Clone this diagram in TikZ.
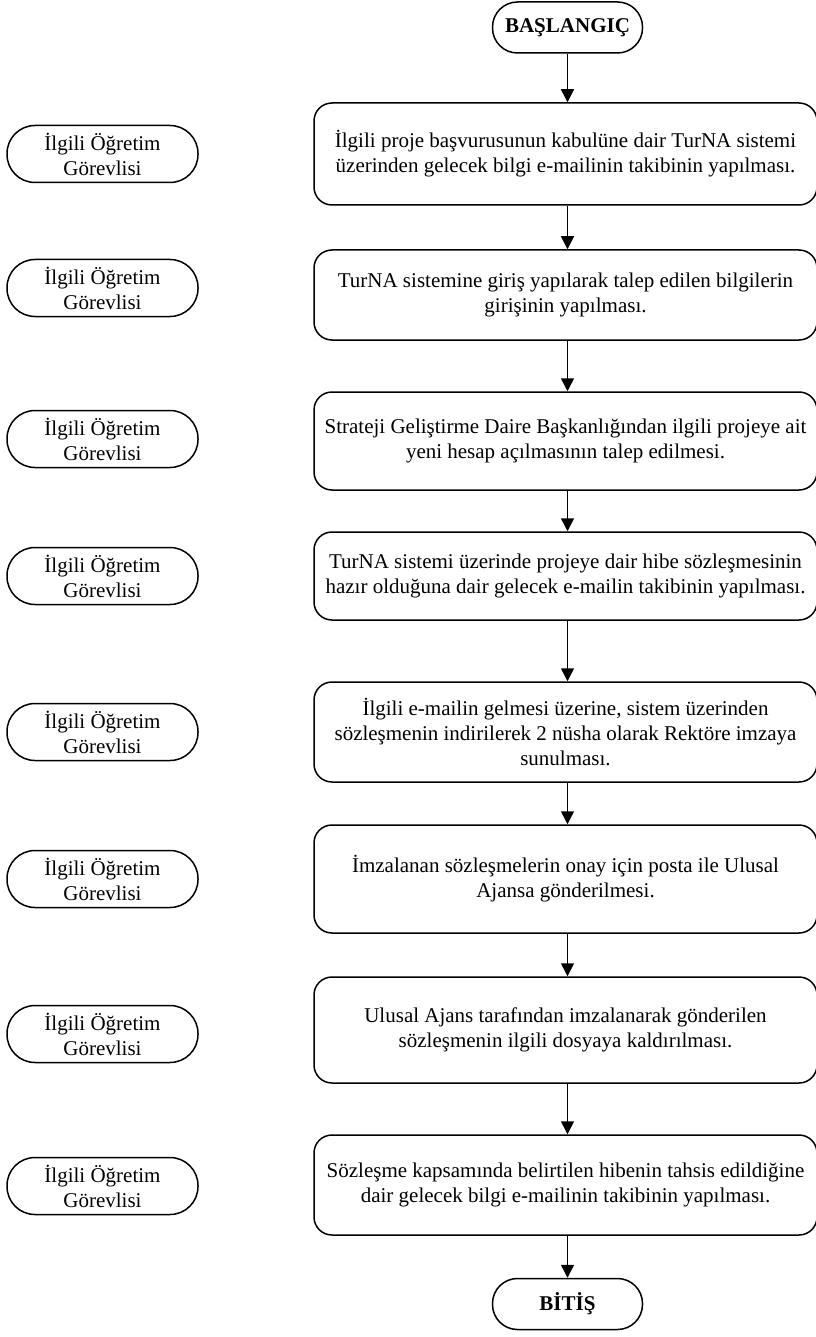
\documentclass[tikz,border=0pt]{standalone}
\usepackage{fontspec}
\setmainfont{Liberation Serif}
\usetikzlibrary{arrows.meta,positioning}

\begin{document}
\begin{tikzpicture}[
    x=1pt, y=-1pt,
    terminal/.style={draw, line width=1.5pt, rounded corners=25pt, minimum width=150pt, minimum height=51pt, inner sep=0pt, font=\fontsize{21}{25}\selectfont\bfseries},
    stepbox/.style={draw, line width=1.5pt, rounded corners=18pt, minimum width=503pt, inner sep=0pt, align=center, font=\fontsize{21}{25}\selectfont},
    actor/.style={draw, line width=1.5pt, rounded corners=28pt, minimum width=191pt, minimum height=57pt, inner sep=0pt, align=center, font=\fontsize{21}{25}\selectfont},
    flow/.style={line width=1.5pt, -{Triangle[length=13pt, width=13pt]}},
]
\useasboundingbox (0,0) rectangle (815,1337);

% --- Start / end ---
\node[terminal] (start) at (567.5,27.5) {BAŞLANGIÇ};
\node[terminal] (end) at (567.5,1304) {BİTİŞ};

% --- Process steps ---
\node[stepbox, minimum height=102pt] (b1) at (565.5,154) {İlgili proje başvurusunun kabulüne dair TurNA sistemi\\üzerinden gelecek bilgi e-mailinin takibinin yapılması.};
\node[stepbox, minimum height=90pt] (b2) at (565.5,295) {TurNA sistemine giriş yapılarak talep edilen bilgilerin\\girişinin yapılması.};
\node[stepbox, minimum height=98pt] (b3) at (565.5,441) {Strateji Geliştirme Daire Başkanlığından ilgili projeye ait\\yeni hesap açılmasının talep edilmesi.};
\node[stepbox, minimum height=88pt] (b4) at (565.5,576) {TurNA sistemi üzerinde projeye dair hibe sözleşmesinin\\hazır olduğuna dair gelecek e-mailin takibinin yapılması.};
\node[stepbox, minimum height=100pt] (b5) at (565.5,732) {İlgili e-mailin gelmesi üzerine, sistem üzerinden\\sözleşmenin indirilerek 2 nüsha olarak Rektöre imzaya\\sunulması.};
\node[stepbox, minimum height=108pt] (b6) at (565.5,879) {İmzalanan sözleşmelerin onay için posta ile Ulusal\\Ajansa gönderilmesi.};
\node[stepbox, minimum height=106pt] (b7) at (565.5,1030) {Ulusal Ajans tarafından imzalanarak gönderilen\\sözleşmenin ilgili dosyaya kaldırılması.};
\node[stepbox, minimum height=100pt] (b8) at (565.5,1185) {Sözleşme kapsamında belirtilen hibenin tahsis edildiğine\\dair gelecek bilgi e-mailinin takibinin yapılması.};

% --- Responsible persons ---
\foreach \y [count=\i] in {154,288,439,576,732,879,1034,1186} {
    \node[actor] (r\i) at (102.5,\y) {İlgili Öğretim\\Görevlisi};
}

% --- Connectors ---
\draw[flow] (start.south) -- (start.south |- b1.north);
\foreach \a/\b in {b1/b2,b2/b3,b3/b4,b4/b5,b5/b6,b6/b7,b7/b8} {
    \draw[flow] (\a.south -| start) -- (\b.north -| start);
}
\draw[flow] (b8.south -| end) -- (end.north);

\end{tikzpicture}
\end{document}
